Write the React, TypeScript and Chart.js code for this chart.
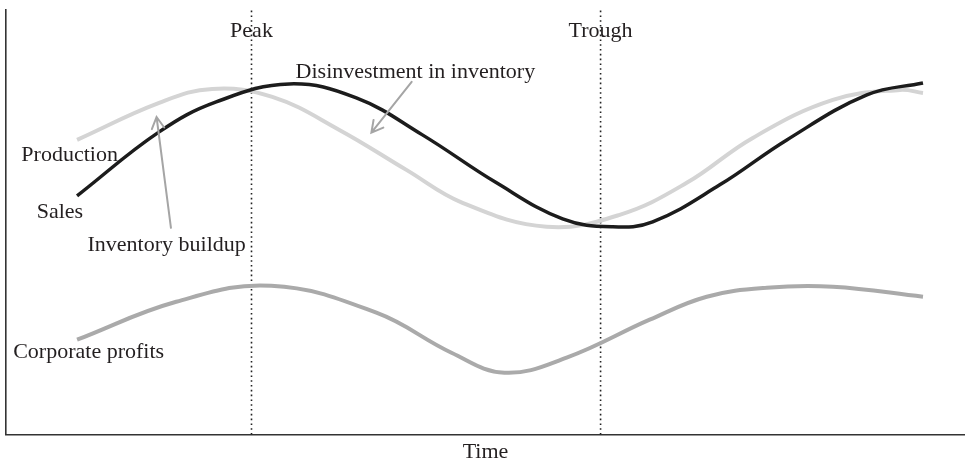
import React, { useEffect, useRef } from "react";
import { Chart, registerables } from "chart.js";

Chart.register(...registerables);

// Time axis 0..100, level axis 0..100 (conceptual units)
const salesX = [7.41, 15.97, 21.92, 29.54, 36.53, 43.42, 51.15, 58.04, 63.26, 67.43, 74.43, 81.42, 89.77, 95.62];
const salesY = [56.24, 71.29, 78.35, 82.59, 79.29, 70.59, 59.29, 50.82, 48.94, 50.12, 58.82, 69.41, 80.0, 82.82];

const productionX = [7.41, 15.97, 21.5, 27.77, 34.76, 41.75, 47.6, 56.37, 63.99, 70.98, 77.87, 86.22, 93.22, 95.62];
const productionY = [69.41, 78.12, 81.41, 79.53, 71.76, 62.35, 54.59, 48.94, 51.76, 59.29, 69.88, 78.82, 81.18, 80.47];

const profitsX = [7.41, 17.75, 27.66, 38.62, 46.45, 51.98, 58.46, 67.12, 73.07, 79.33, 86.22, 95.62];
const profitsY = [22.35, 31.29, 35.06, 28.71, 19.29, 14.59, 18.12, 27.06, 32.47, 34.59, 34.82, 32.47];

const peakX = 25.6;
const troughX = 62.0;

const xMin = 0;
const xMax = 100;
const yMin = 0;
const yMax = 100;

// Text labels
const labelTexts = ["Peak", "Trough", "Production", "Sales", "Inventory buildup", "Disinvestment in inventory", "Corporate profits"];
const labelX = [peakX, troughX, 1.6, 3.2, 8.5, 30.2, 0.75];
const labelY = [94.9, 94.9, 65.9, 52.4, 44.5, 85.4, 19.4];
const labelAlign: CanvasTextAlign[] = ["center", "center", "left", "left", "left", "left", "left"];

// Arrows: tail -> head
const arrowFromX = [17.2, 42.3];
const arrowFromY = [48.7, 83.1];
const arrowToX = [15.7, 38.1];
const arrowToY = [74.8, 71.1];

const FONT = "'Liberation Serif', 'Times New Roman', serif";

const pts = (xs: number[], ys: number[]) => xs.map((x, i) => ({ x, y: ys[i] }));

const annotPlugin = {
  id: "annot",
  afterDatasetsDraw(chart: any) {
    const { ctx, scales } = chart;
    const sx = scales.x;
    const sy = scales.y;
    ctx.save();
    ctx.font = `22px ${FONT}`;
    ctx.fillStyle = "#231f20";
    ctx.textBaseline = "middle";
    labelTexts.forEach((t, i) => {
      ctx.textAlign = labelAlign[i];
      ctx.fillText(t, sx.getPixelForValue(labelX[i]), sy.getPixelForValue(labelY[i]));
    });
    ctx.strokeStyle = "#a5a5a5";
    ctx.lineWidth = 2;
    ctx.lineCap = "round";
    arrowFromX.forEach((_, i) => {
      const x1 = sx.getPixelForValue(arrowFromX[i]);
      const y1 = sy.getPixelForValue(arrowFromY[i]);
      const x2 = sx.getPixelForValue(arrowToX[i]);
      const y2 = sy.getPixelForValue(arrowToY[i]);
      const a = Math.atan2(y2 - y1, x2 - x1);
      const L = 13;
      const w = 0.5;
      ctx.beginPath();
      ctx.moveTo(x1, y1);
      ctx.lineTo(x2, y2);
      ctx.moveTo(x2 - L * Math.cos(a - w), y2 - L * Math.sin(a - w));
      ctx.lineTo(x2, y2);
      ctx.lineTo(x2 - L * Math.cos(a + w), y2 - L * Math.sin(a + w));
      ctx.stroke();
    });
    ctx.restore();
  },
};

export default function App() {
  const ref = useRef<HTMLCanvasElement | null>(null);
  useEffect(() => {
    document.body.style.margin = "0";
    if (!ref.current) return;
    const chart = new Chart(ref.current, {
      type: "line",
      data: {
        datasets: [
          {
            label: "Sales",
            data: pts(salesX, salesY),
            borderColor: "#1c1c1c",
            borderWidth: 3.5,
            pointRadius: 0,
            tension: 0.4,
            order: 1,
          },
          {
            label: "Production",
            data: pts(productionX, productionY),
            borderColor: "#d4d4d4",
            borderWidth: 4,
            pointRadius: 0,
            tension: 0.4,
            order: 2,
          },
          {
            label: "Corporate profits",
            data: pts(profitsX, profitsY),
            borderColor: "#aaaaaa",
            borderWidth: 4,
            pointRadius: 0,
            tension: 0.4,
            order: 3,
          },
          {
            label: "Peak",
            data: [{ x: peakX, y: yMin }, { x: peakX, y: yMax }],
            borderColor: "#222",
            borderWidth: 1.6,
            borderDash: [1.6, 3.2],
            pointRadius: 0,
            order: 4,
          },
          {
            label: "Trough",
            data: [{ x: troughX, y: yMin }, { x: troughX, y: yMax }],
            borderColor: "#222",
            borderWidth: 1.6,
            borderDash: [1.6, 3.2],
            pointRadius: 0,
            order: 5,
          },
        ],
      },
      options: {
        animation: false,
        responsive: true,
        maintainAspectRatio: false,
        layout: { padding: { left: 6, top: 10, right: 0, bottom: 0 } },
        plugins: { legend: { display: false }, tooltip: { enabled: false } },
        scales: {
          x: {
            type: "linear",
            min: xMin,
            max: xMax,
            grid: { display: false, drawTicks: false },
            ticks: { display: false },
            border: { display: true, color: "#333", width: 1.6 },
            title: {
              display: true,
              text: "Time",
              font: { family: FONT, size: 22 },
              color: "#231f20",
              padding: { top: 4, bottom: 1 },
            },
          },
          y: {
            type: "linear",
            min: yMin,
            max: yMax,
            grid: { display: false, drawTicks: false },
            ticks: { display: false },
            border: { display: true, color: "#333", width: 1.6 },
          },
        },
      },
      plugins: [annotPlugin],
    });
    return () => chart.destroy();
  }, []);
  return (
    <div style={{ width: 965, height: 466, position: "relative" }}>
      <canvas ref={ref} />
    </div>
  );
}
